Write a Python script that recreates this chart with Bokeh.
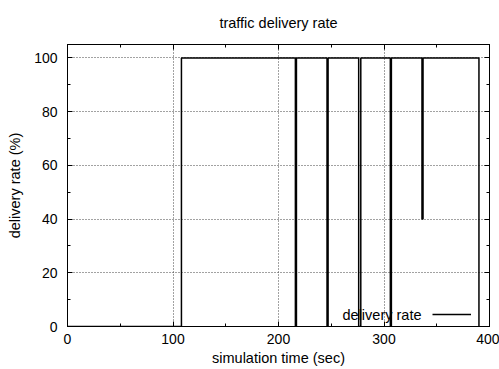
from bokeh.plotting import figure
from bokeh.models import (Range1d, SingleIntervalTicker, LinearAxis, Legend, LegendItem,
                          Grid, CustomJSTickFormatter, Label)
from bokeh.embed import file_html
from bokeh.resources import INLINE

# data (step function: value holds from this time until the next)
times = [0, 108, 216, 217, 246, 247, 276, 278, 306, 307, 336, 337, 390]
rates = [0, 100, 0, 100, 0, 100, 0, 100, 0, 100, 40, 100, 0]

title_text = "traffic delivery rate"
x_label = "simulation time (sec)"
y_label = "delivery rate (%)"
series_name = "delivery rate"

FONT = "Liberation Sans"
FS = "14.5px"
FS_TICK = "14px"

p = figure(frame_width=422, frame_height=282, output_backend="svg", toolbar_location=None,
           x_range=Range1d(0, 400), y_range=Range1d(0, 105),
           min_border_left=67, min_border_right=10, min_border_top=44, min_border_bottom=43,
           x_axis_type=None, y_axis_type=None)

p.title.text = title_text
p.title.align = "center"
p.title.vertical_align = "top"
p.title.standoff = 23
p.title.text_font = FONT
p.title.text_font_size = FS
p.title.text_font_style = "normal"
p.title.text_color = "black"

xt = SingleIntervalTicker(interval=100, num_minor_ticks=2)
yt = SingleIntervalTicker(interval=20, num_minor_ticks=2)

def style(ax, labels=True):
    ax.major_tick_in = 5
    ax.major_tick_out = 0
    ax.minor_tick_in = 3
    ax.minor_tick_out = 0
    ax.major_tick_line_color = "black"
    ax.minor_tick_line_color = "black"
    ax.axis_line_color = "black"
    ax.major_label_text_font = FONT
    ax.major_label_text_font_size = FS_TICK
    ax.major_label_text_color = "black"
    ax.axis_label_text_font = FONT
    ax.axis_label_text_font_size = FS
    ax.axis_label_text_font_style = "normal"
    ax.axis_label_text_color = "black"
    if not labels:
        ax.major_label_standoff = 0
        ax.formatter = CustomJSTickFormatter(code="return ''")

xb = LinearAxis(ticker=xt, axis_label=x_label)
style(xb)
xb.major_label_standoff = 7
xb.axis_label_standoff = 3
p.add_layout(xb, "below")

yl = LinearAxis(ticker=yt, axis_label=y_label)
style(yl)
yl.major_label_standoff = 10
yl.axis_label_standoff = 8
p.add_layout(yl, "left")

xa = LinearAxis(ticker=xt)
style(xa, labels=False)
p.add_layout(xa, "above")

yr = LinearAxis(ticker=yt)
style(yr, labels=False)
p.add_layout(yr, "right")

for dim, tk in ((0, xt), (1, yt)):
    g = Grid(dimension=dim, ticker=tk, grid_line_color="#444444",
             grid_line_dash="1 2", grid_line_width=1)
    p.add_layout(g)

p.outline_line_color = "black"
p.background_fill_color = "white"
p.border_fill_color = "white"

r = p.step(times, rates, mode="after", line_color="black", line_width=1.5)

legend = Legend(items=[LegendItem(label="", renderers=[r])],
                location=(365, 5), padding=0, margin=0, spacing=0,
                label_standoff=0, glyph_width=39, glyph_height=14,
                label_height=14, label_width=0,
                label_text_font=FONT, label_text_font_size=FS, label_text_color="black",
                background_fill_alpha=0, border_line_alpha=0)
p.add_layout(legend, "center")

p.add_layout(Label(x=354, y=12, x_units="screen", y_units="screen", text=series_name,
                   text_align="right", text_baseline="middle", text_font=FONT,
                   text_font_size=FS, text_color="black"))

open("out.html", "w").write(file_html(p, INLINE))
